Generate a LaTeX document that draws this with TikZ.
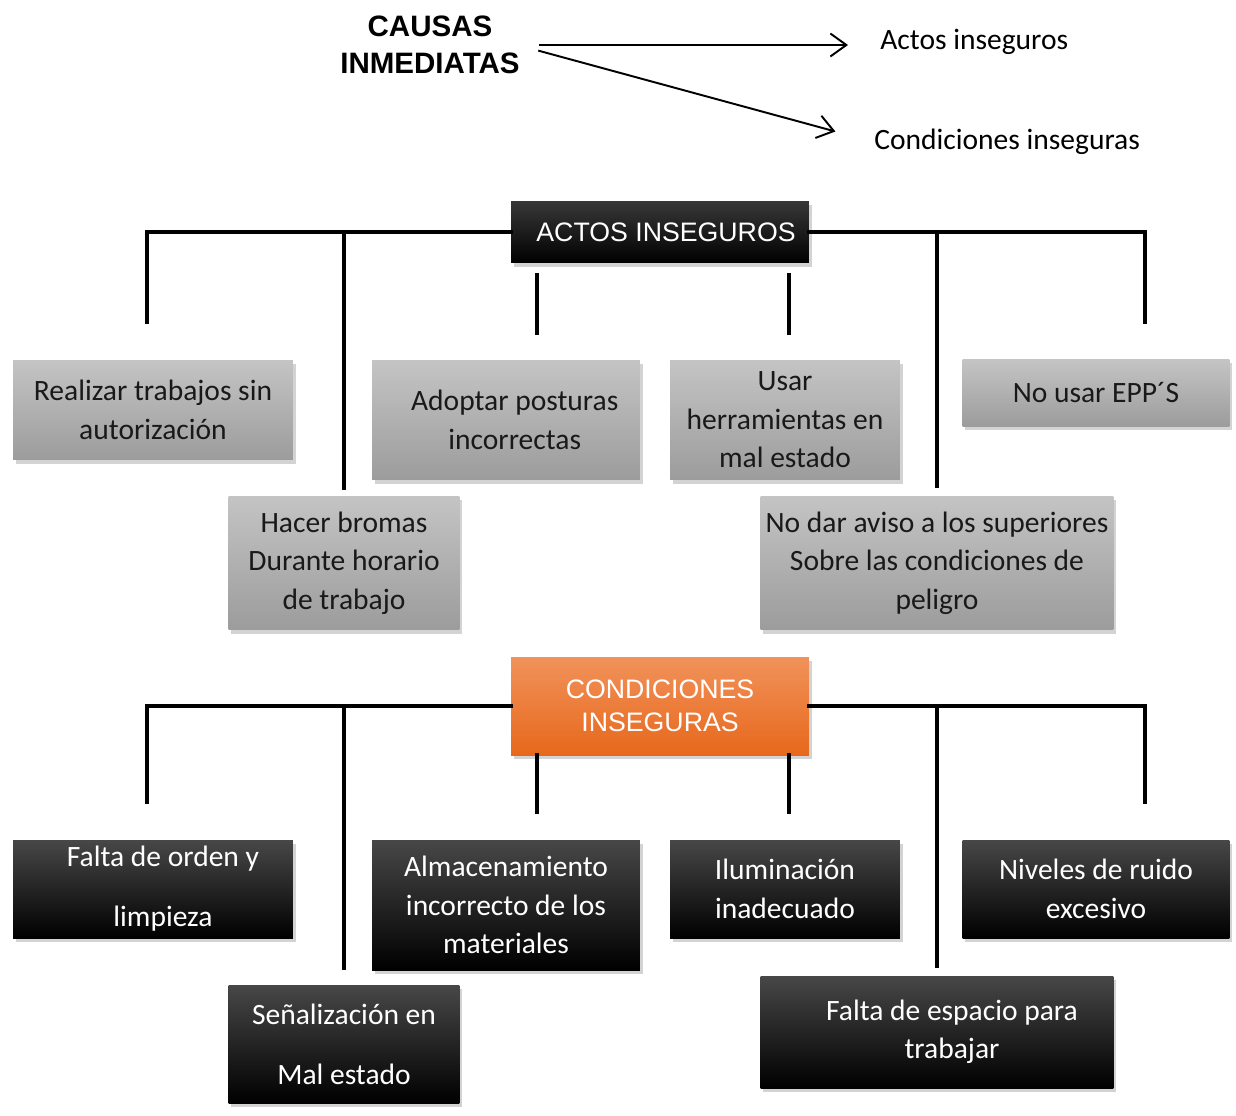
\documentclass[tikz,border=0pt]{standalone}
\usepackage{fontspec}
\setmainfont{Carlito}
\newfontfamily\arialfont{Liberation Sans}
\usetikzlibrary{arrows.meta,positioning,calc,shadows}
\definecolor{grayTop}{RGB}{196,196,196}
\definecolor{grayBot}{RGB}{156,156,156}
\definecolor{orTop}{RGB}{241,146,90}
\definecolor{orBot}{RGB}{231,104,28}
\tikzset{
	cbox/.style={
		align=center,
		inner sep=0pt,
		font=\fontsize{16.8}{21.9}\selectfont,
		drop shadow={shadow xshift=1.5pt, shadow yshift=-2pt, opacity=.35}
	},
	gbox/.style={cbox, top color=grayTop, bottom color=grayBot, text=black!90},
	kbox/.style={cbox, top color=black!72, middle color=black, bottom color=black, text=white},
	hbox/.style={
		align=center,
		inner sep=0pt,
		text=white,
		font=\arialfont\fontsize{15.2}{18.8}\selectfont,
		drop shadow={shadow xshift=1.5pt, shadow yshift=-2pt, opacity=.35},
		minimum width=5.96cm
	},
	tline/.style={line width=2.2pt, line cap=rect},
	carr/.style={-{Straight Barb[length=3.2mm,width=4.6mm]}, line width=1.1pt}
}

\begin{document}
\begin{tikzpicture}[x=0.02cm, y=-0.02cm]
	\useasboundingbox (0,0) rectangle (1236,1115);

	% top part
	\node[font=\arialfont\bfseries\fontsize{16.8}{21}\selectfont, align=center, inner sep=6pt] (causas) at (430,45)
		{CAUSAS\\INMEDIATAS};
	\node[anchor=west, inner sep=0pt, font=\fontsize{16.8}{20}\selectfont] (lActos) at (880,42) {Actos inseguros};
	\node[anchor=west, inner sep=0pt, font=\fontsize{16.8}{20}\selectfont] (lCond) at (874,142) {Condiciones inseguras};
	\draw[carr, shorten <=0.16cm, shorten >=0.64cm] (causas.east) -- (causas.east -| lActos.west);
	\draw[carr, shorten <=0.16cm, shorten >=0.8cm] ([yshift=-2pt]causas.east) -- (lCond.west);

	% actos inseguros
	\node[hbox, top color=black!78, middle color=black, bottom color=black, minimum height=1.24cm] (actos) at (660,232)
		{\hspace*{0.24cm}ACTOS INSEGUROS};
	\node[gbox, minimum width=5.6cm, minimum height=2cm] (realizar) at (153,410)
		{Realizar trabajos sin\\autorización};
	\node[gbox, minimum width=5.36cm, minimum height=2.4cm] (adoptar) at (506,420)
		{\hspace*{0.35cm}Adoptar posturas\\\hspace*{0.35cm}incorrectas};
	\node[gbox, minimum width=4.6cm, minimum height=2.4cm] (usar) at (785,420)
		{Usar\\herramientas en\\mal estado};
	\node[gbox, minimum width=5.34cm, minimum height=1.34cm] (epp) at (1096,393)
		{No usar EPP´S};
	\node[gbox, minimum width=4.62cm, minimum height=2.68cm] (bromas) at (344,563)
		{Hacer bromas\\Durante horario\\de trabajo};
	\node[gbox, minimum width=7.06cm, minimum height=2.68cm] (aviso) at (937,563)
		{No dar aviso a los superiores\\Sobre las condiciones de\\peligro};

	\coordinate (a1) at (147,322);
	\coordinate (a5) at (1145,322);
	\coordinate (a2s) at (537,275);
	\coordinate (a2e) at (537,333);
	\coordinate (a4s) at (789,275);
	\coordinate (a4e) at (789,333);
	\draw[tline] (actos.west) -| (a1);
	\draw[tline] (actos.east) -| (a5);
	\draw[tline, shorten <=0.16cm] (bromas.north) |- (actos.west);
	\draw[tline, shorten <=0.2cm] (aviso.north) |- (actos.east);
	\draw[tline] (a2s) -- (a2e);
	\draw[tline] (a4s) -- (a4e);

	% condiciones inseguras
	\node[hbox, top color=orTop, bottom color=orBot, minimum height=1.96cm] (cond) at (660,706)
		{CONDICIONES\\INSEGURAS};
	\node[kbox, minimum width=5.6cm, minimum height=1.96cm] (orden) at (153,889)
		{\hspace*{0.4cm}Falta de orden y\\[0.43cm]\hspace*{0.4cm}limpieza};
	\node[kbox, minimum width=5.36cm, minimum height=2.6cm] (almac) at (506,905)
		{Almacenamiento\\incorrecto de los\\materiales};
	\node[kbox, minimum width=4.6cm, minimum height=1.96cm] (ilum) at (785,889)
		{Iluminación\\inadecuado};
	\node[kbox, minimum width=5.34cm, minimum height=1.96cm] (ruido) at (1096,889)
		{Niveles de ruido\\excesivo};
	\node[kbox, minimum width=4.62cm, minimum height=2.36cm] (senal) at (344,1044)
		{Señalización en\\[0.43cm]Mal estado};
	\node[kbox, minimum width=7.06cm, minimum height=2.24cm] (espacio) at (937,1032)
		{\hspace*{0.6cm}Falta de espacio para\\\hspace*{0.6cm}trabajar};

	\coordinate (c1) at (147,802);
	\coordinate (c5) at (1145,802);
	\coordinate (c2s) at (537,755);
	\coordinate (c2e) at (537,812);
	\coordinate (c4s) at (789,755);
	\coordinate (c4e) at (789,812);
	\draw[tline] (cond.west) -| (c1);
	\draw[tline] (cond.east) -| (c5);
	\draw[tline, shorten <=0.34cm] (senal.north) |- (cond.west);
	\draw[tline, shorten <=0.2cm] (espacio.north) |- (cond.east);
	\draw[tline] (c2s) -- (c2e);
	\draw[tline] (c4s) -- (c4e);
\end{tikzpicture}
\end{document}
